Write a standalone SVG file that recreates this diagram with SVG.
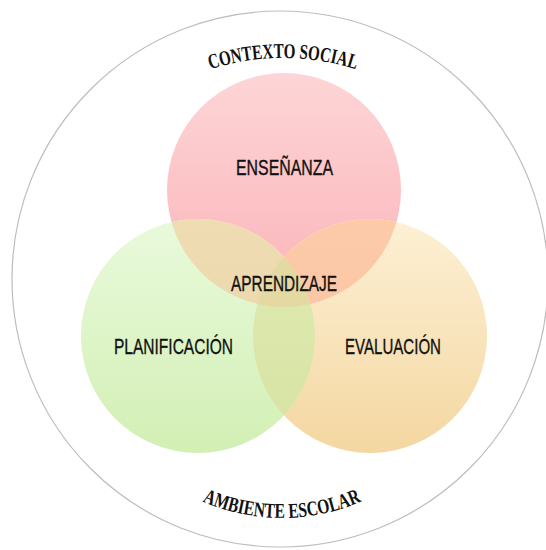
<svg xmlns="http://www.w3.org/2000/svg" width="546" height="550" viewBox="0 0 546 550">
  <style>
    .lbl { font-family: "Liberation Sans", "DejaVu Sans", sans-serif; font-size: 22px; fill: #111; stroke: #111; stroke-width: 0.35; text-anchor: middle; }
    .arc { font-family: "Liberation Serif", "DejaVu Serif", serif; font-weight: bold; fill: #111; }
  </style>
  <defs>
    <linearGradient id="gRed" x1="0" y1="0" x2="0" y2="1">
      <stop offset="0" stop-color="#fdd5d6"/>
      <stop offset="1" stop-color="#fbb3b8"/>
    </linearGradient>
    <linearGradient id="gGreen" x1="0" y1="0" x2="0" y2="1">
      <stop offset="0" stop-color="#e9fadc"/>
      <stop offset="1" stop-color="#d3efb4"/>
    </linearGradient>
    <linearGradient id="gOrange" x1="0" y1="0" x2="0" y2="1">
      <stop offset="0" stop-color="#fdf0d5"/>
      <stop offset="1" stop-color="#f4d7a1"/>
    </linearGradient>
    <linearGradient id="gRG" x1="0" y1="0" x2="0" y2="1">
      <stop offset="0" stop-color="#efdcb2"/>
      <stop offset="1" stop-color="#e8d4a8"/>
    </linearGradient>
    <linearGradient id="gRO" x1="0" y1="0" x2="0" y2="1">
      <stop offset="0" stop-color="#fccbaa"/>
      <stop offset="1" stop-color="#fbbe9c"/>
    </linearGradient>
    <linearGradient id="gGO" x1="0" y1="0" x2="0" y2="1">
      <stop offset="0" stop-color="#e1ebb4"/>
      <stop offset="1" stop-color="#d6e3a2"/>
    </linearGradient>
    <clipPath id="cRed"><circle cx="284" cy="190" r="117"/></clipPath>
    <clipPath id="cGreen"><circle cx="198" cy="336" r="117"/></clipPath>
    <clipPath id="cOrange"><circle cx="370" cy="336" r="117"/></clipPath>
    <path id="arcTop" d="M 45 296 A 238 238 0 0 1 521 296"/>
    <path id="arcBottom" d="M 82 318 A 200 200 0 0 0 482 318"/>
  </defs>

  <rect x="0" y="0" width="546" height="550" fill="#ffffff"/>

  <g id="outer">
    <circle cx="280" cy="279" r="268" fill="none" stroke="#bdbdbd" stroke-width="1.2"/>
    <text class="arc" font-size="21"><textPath href="#arcTop" startOffset="50%" text-anchor="middle" textLength="148" lengthAdjust="spacingAndGlyphs">CONTEXTO SOCIAL</textPath></text>
    <text class="arc" font-size="21"><textPath href="#arcBottom" startOffset="50%" text-anchor="middle" textLength="164" lengthAdjust="spacingAndGlyphs">AMBIENTE ESCOLAR</textPath></text>
  </g>

  <g id="ensenanza">
    <circle cx="284" cy="190" r="117" fill="url(#gRed)"/>
  </g>
  <g id="planificacion">
    <circle cx="198" cy="336" r="117" fill="url(#gGreen)"/>
  </g>
  <g id="evaluacion">
    <circle cx="370" cy="336" r="117" fill="url(#gOrange)"/>
  </g>

  <g id="overlaps">
    <circle cx="198" cy="336" r="117" fill="url(#gRG)" clip-path="url(#cRed)"/>
    <circle cx="370" cy="336" r="117" fill="url(#gRO)" clip-path="url(#cRed)"/>
    <circle cx="370" cy="336" r="117" fill="url(#gGO)" clip-path="url(#cGreen)"/>
    <g clip-path="url(#cOrange)">
      <circle cx="198" cy="336" r="117" fill="#e4d8a3" clip-path="url(#cRed)"/>
    </g>
  </g>

  <g id="labels">
    <text class="lbl" x="284.5" y="175" textLength="97" lengthAdjust="spacingAndGlyphs">ENSEÑANZA</text>
    <text class="lbl" x="284" y="291" textLength="106" lengthAdjust="spacingAndGlyphs">APRENDIZAJE</text>
    <text class="lbl" x="173.5" y="354" textLength="119" lengthAdjust="spacingAndGlyphs">PLANIFICACIÓN</text>
    <text class="lbl" x="393" y="354" textLength="96" lengthAdjust="spacingAndGlyphs">EVALUACIÓN</text>
  </g>
</svg>
